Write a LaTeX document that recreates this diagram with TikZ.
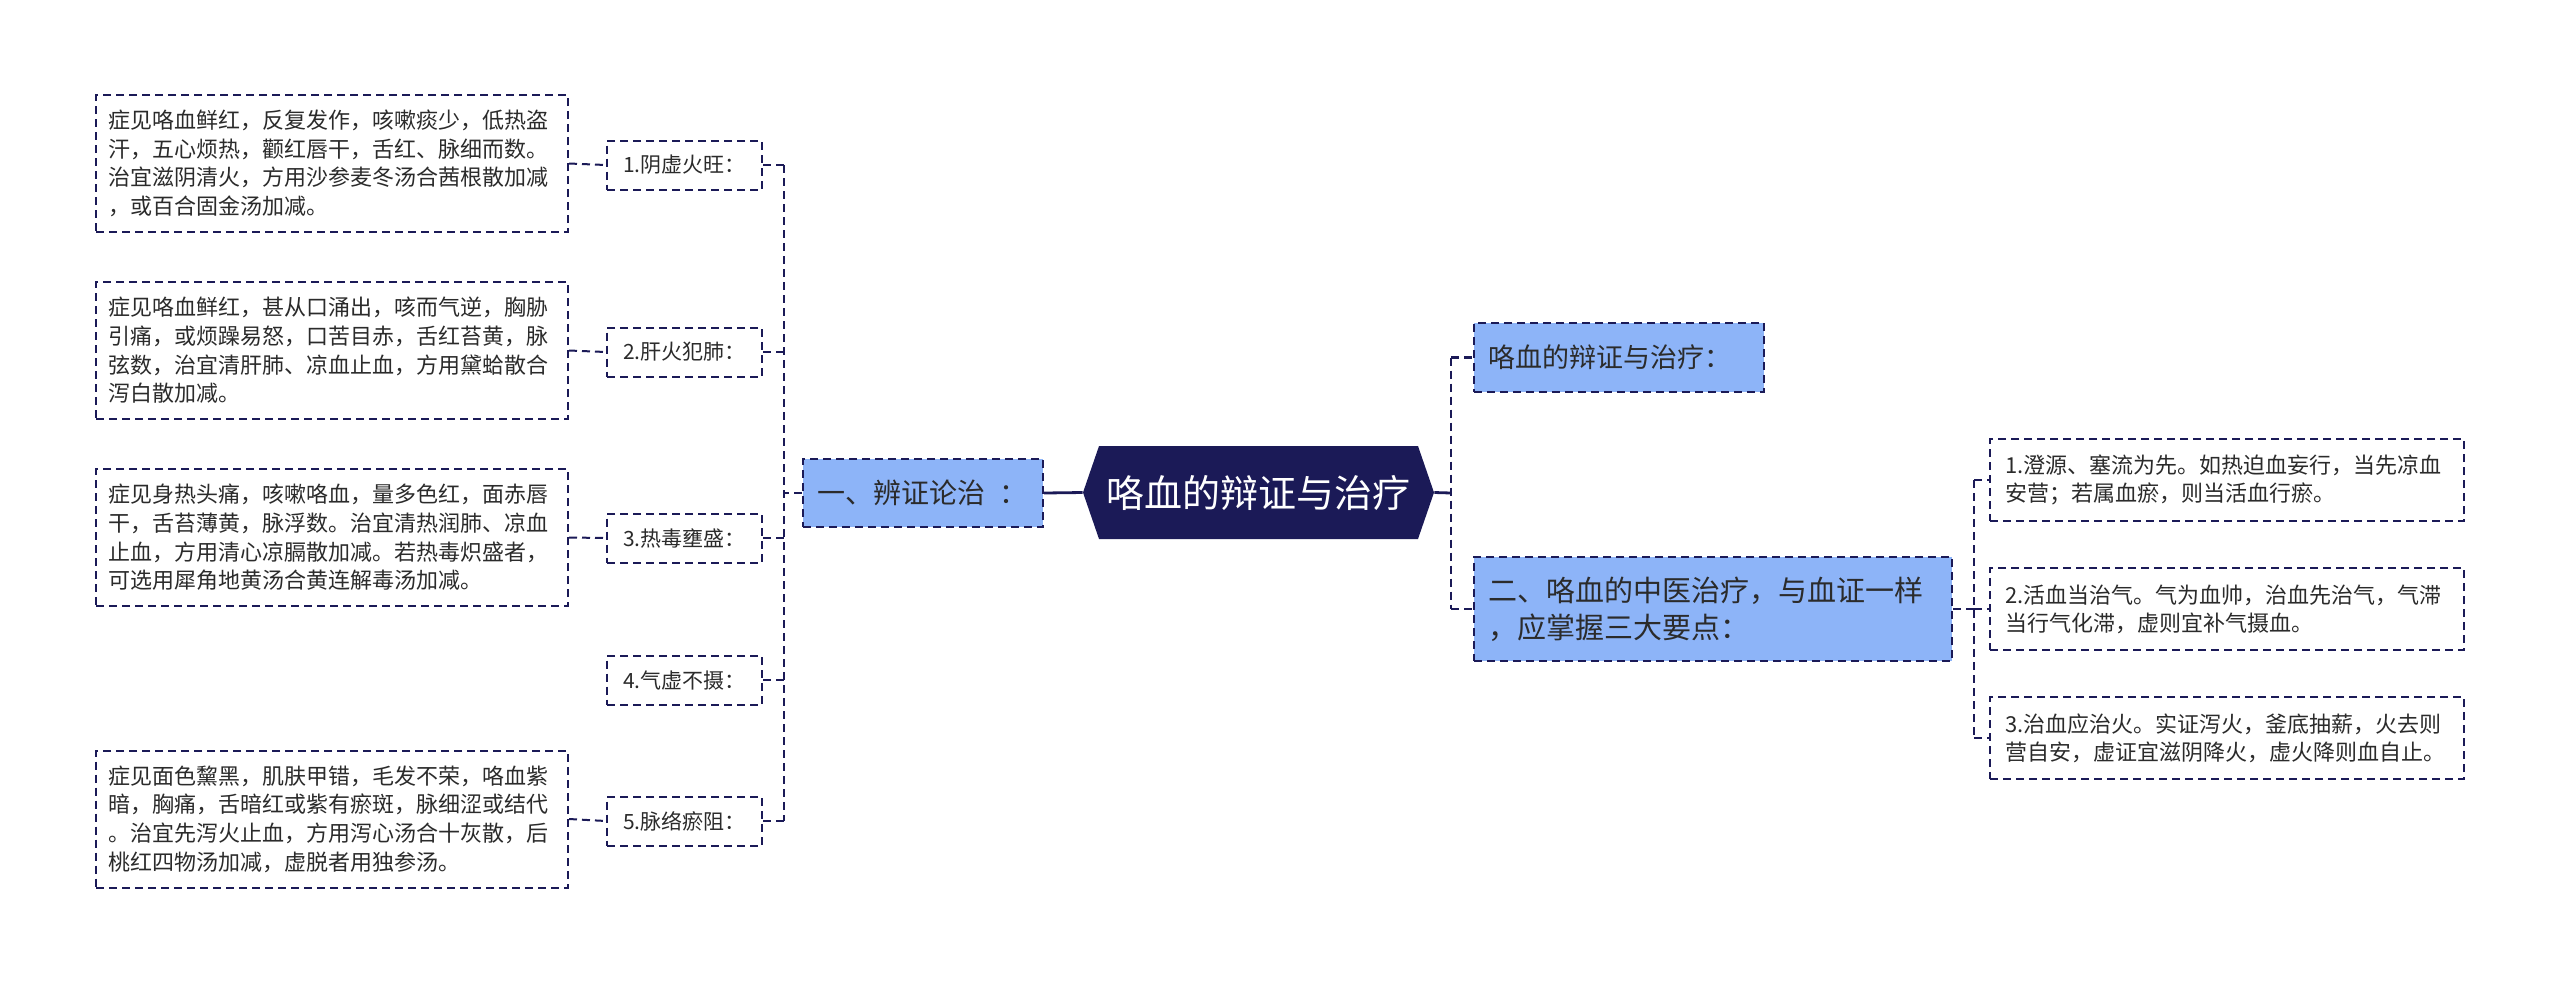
\documentclass[tikz,border=0pt]{standalone}
\usepackage{fontspec}
\setmainfont{Noto Sans CJK SC}
\usetikzlibrary{shapes.symbols}
\definecolor{navy}{HTML}{1B1A57}
\definecolor{lblue}{HTML}{8DB4F8}
\definecolor{txt}{HTML}{2B2B2B}
\begin{document}
\begin{tikzpicture}[x=0.5pt,y=-0.5pt,
  conn/.style={draw=navy,line width=1pt,dash pattern=on 4pt off 2.5pt},
  mainconn/.style={draw=navy,line width=1.4pt,dash pattern=on 4pt off 2.5pt},
  solidconn/.style={draw=navy,line width=1.4pt},
  box/.style={draw=navy,line width=1pt,dash pattern=on 4pt off 2.5pt,text=txt,inner sep=0pt},
  detail/.style={box,fill=white,font=\fontsize{11}{14.3}\selectfont,align=left,text width=224pt,inner xsep=6pt,minimum height=68.5pt},
  label/.style={box,fill=white,font=\fontsize{10.5}{13}\selectfont,minimum width=77.5pt,minimum height=24.5pt},
  topic/.style={box,fill=lblue,align=left,inner xsep=7pt},
  rbox/.style={box,fill=white,font=\fontsize{11}{14}\selectfont,align=left,text width=222pt,inner xsep=7.5pt,minimum height=41pt},
  hub/.style={shape=signal,signal to=west and east,signal pointer angle=142,fill=navy,draw=none,text=white,font=\fontsize{19}{22}\selectfont,minimum width=175.5pt,minimum height=46.5pt,inner sep=0pt}
]
\useasboundingbox (0,0) rectangle (2560,987);
\fill[white] (0,0) rectangle (2560,987);

% center
\node[hub] (c) at (1258.5,492.5) {咯血的辩证与治疗};

% left topic
\node[topic,font=\fontsize{14}{17}\selectfont,text width=106pt,minimum height=34pt] (yi) at (923,493) {一、辨证论治\hspace{7pt}：};

% labels
\node[label] (l1) at (684.5,165) {1.阴虚火旺：};
\node[label] (l2) at (684.5,352) {2.肝火犯肺：};
\node[label] (l3) at (684.5,538) {3.热毒壅盛：};
\node[label] (l4) at (684.5,680) {4.气虚不摄：};
\node[label] (l5) at (684.5,821) {5.脉络瘀阻：};

% details
\node[detail] (d1) at (332,163.5) {症见咯血鲜红，反复发作，咳嗽痰少，低热盗\\汗，五心烦热，颧红唇干，舌红、脉细而数。\\治宜滋阴清火，方用沙参麦冬汤合茜根散加减\\，或百合固金汤加减。};
\node[detail] (d2) at (332,350.5) {症见咯血鲜红，甚从口涌出，咳而气逆，胸胁\\引痛，或烦躁易怒，口苦目赤，舌红苔黄，脉\\弦数，治宜清肝肺、凉血止血，方用黛蛤散合\\泻白散加减。};
\node[detail] (d3) at (332,537.5) {症见身热头痛，咳嗽咯血，量多色红，面赤唇\\干，舌苔薄黄，脉浮数。治宜清热润肺、凉血\\止血，方用清心凉膈散加减。若热毒炽盛者，\\可选用犀角地黄汤合黄连解毒汤加减。};
\node[detail] (d5) at (332,819) {症见面色黧黑，肌肤甲错，毛发不荣，咯血紫\\暗，胸痛，舌暗红或紫有瘀斑，脉细涩或结代\\。治宜先泻火止血，方用泻心汤合十灰散，后\\桃红四物汤加减，虚脱者用独参汤。};

% right topics
\node[topic,font=\fontsize{13.5}{16}\selectfont,text width=131pt,minimum height=34.5pt,anchor=west] (t1) at (1473,357.5) {咯血的辩证与治疗：};
\node[topic,font=\fontsize{14.5}{18.7}\selectfont,text width=225pt,minimum height=52pt,anchor=west] (t2) at (1473,609) {二、咯血的中医治疗，与血证一样\\，应掌握三大要点：};

% right details
\node[rbox] (r1) at (2227,480) {1.澄源、塞流为先。如热迫血妄行，当先凉血\\安营；若属血瘀，则当活血行瘀。};
\node[rbox] (r2) at (2227,609) {2.活血当治气。气为血帅，治血先治气，气滞\\当行气化滞，虚则宜补气摄血。};
\node[rbox] (r3) at (2227,738) {3.治血应治火。实证泻火，釜底抽薪，火去则\\营自安，虚证宜滋阴降火，虚火降则血自止。};

% trunk coordinates
\coordinate (tl) at (784,493);
\coordinate (tr) at (1451,493);
\coordinate (tr2) at (1974,609);

% connectors left
\draw[solidconn] (c.west) -- (yi.east);
\draw[conn] (yi.west) -- (tl);
\draw[conn] (l1.east -| tl) -- (l5.east -| tl);
\foreach \n in {l1,l2,l3,l4,l5} \draw[conn] (\n.east) -- (\n.east -| tl);
\draw[conn] (d1.east) -- (l1.west);
\draw[conn] (d2.east) -- (l2.west);
\draw[conn] (d3.east) -- (l3.west);
\draw[conn] (d5.east) -- (l5.west);

% connectors right
\draw[solidconn] (c.east) -- (tr);
\draw[mainconn] (t1.west -| tr) -- (t2.west -| tr);
\draw[mainconn] (t1.west -| tr) -- (t1.west);
\draw[mainconn] (t2.west -| tr) -- (t2.west);
\draw[conn] (t2.east) -- (tr2);
\draw[conn] (r1.west -| tr2) -- (r3.west -| tr2);
\foreach \n in {r1,r2,r3} \draw[conn] (\n.west -| tr2) -- (\n.west);
\end{tikzpicture}
\end{document}
